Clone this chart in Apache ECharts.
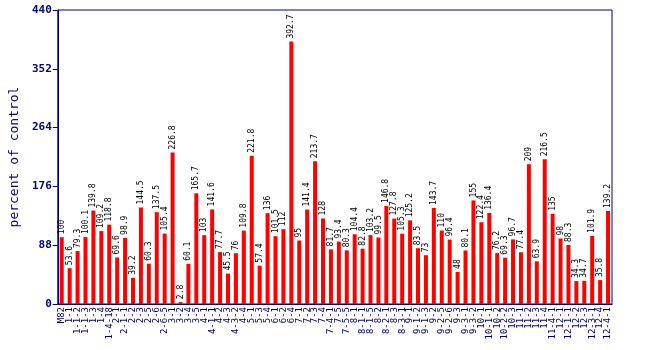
<!DOCTYPE html>
<html><head><meta charset="utf-8">
<script src="https://cdn.jsdelivr.net/npm/echarts@6/dist/echarts.min.js"></script>
<style>html,body{margin:0;padding:0;background:#fff}#c{width:650px;height:350px}</style>
</head><body><div id="c"></div>
<script>
const categories = ["M82","1-1","1-1-2","1-1-3","1-3","1-4","1-4-18","2-1","2-1-1","2-2","2-3","2-5","2-6","2-6-5","3-1","3-2","3-4","3-5","4-1","4-1-1","4-2","4-3","4-3-2","4-4","5-1","5-3","5-4","6-1","6-2","6-4","7-1","7-2","7-3","7-4","7-4-1","7-5","7-5-5","8-1","8-1-1","8-1-5","8-2","8-2-1","8-3","8-3-1","9-1","9-1-2","9-1-3","9-2","9-2-5","9-2-6","9-3","9-3-1","9-3-2","10-1","10-1-1","10-2","10-2-2","10-3","11-1","11-2","11-3","11-4","11-4-1","12-1","12-1-1","12-2","12-3","12-3-1","12-4","12-4-1"];
const values = [100,53.6,79.3,100.1,139.8,109.2,118.8,69.6,98.9,39.2,144.5,60.3,137.5,105.4,226.8,2.8,60.1,165.7,103,141.6,77.7,45.5,76,109.8,221.8,57.4,136,101.5,112,392.7,95,141.4,213.7,128,81.7,93.4,80.3,104.4,82.8,103.2,99.5,146.8,127.8,105.3,125.2,83.5,73,143.7,110,96.4,48,80.1,155,122.4,136.4,76.2,69.3,96.7,77.4,209,63.9,216.5,135,98,88.3,34.3,34.7,101.9,35.8,139.2];
const yTicks = [0,88,176,264,352,440];
const navy = '#000080';
const mono = '"DejaVu Sans Mono", "Liberation Mono", monospace';
const chart = echarts.init(document.getElementById('c'));
chart.setOption({
  animation: false,
  grid: {left: 44, right: 38, top: 10, bottom: 46, show: true, borderColor: navy, borderWidth: 1, backgroundColor: 'transparent'},
  xAxis: {
    type: 'category', data: categories,
    axisLine: {lineStyle: {color: navy}},
    axisTick: {show: false},
    axisLabel: {rotate: 90, interval: 0, color: navy, fontFamily: mono, fontSize: 9, margin: 3}
  },
  yAxis: {
    type: 'value', min: yTicks[0], max: yTicks[yTicks.length-1], interval: 88,
    name: 'percent of control', nameLocation: 'middle', nameGap: 32,
    nameTextStyle: {color: navy, fontFamily: mono, fontSize: 13},
    axisLine: {show: true, lineStyle: {color: navy}},
    axisTick: {show: true, inside: false, length: 5, lineStyle: {color: navy}},
    splitLine: {show: false},
    axisLabel: {color: navy, fontFamily: mono, fontSize: 11, fontWeight: 'bold', margin: 6}
  },
  series: [{
    type: 'bar', data: values, barWidth: 4,
    itemStyle: {color: '#ff0000'},
    label: {show: true, position: 'top', rotate: 90, align: 'left', verticalAlign: 'middle', distance: 3,
      color: '#000', fontFamily: mono, fontSize: 8}
  }]
});
</script></body></html>
